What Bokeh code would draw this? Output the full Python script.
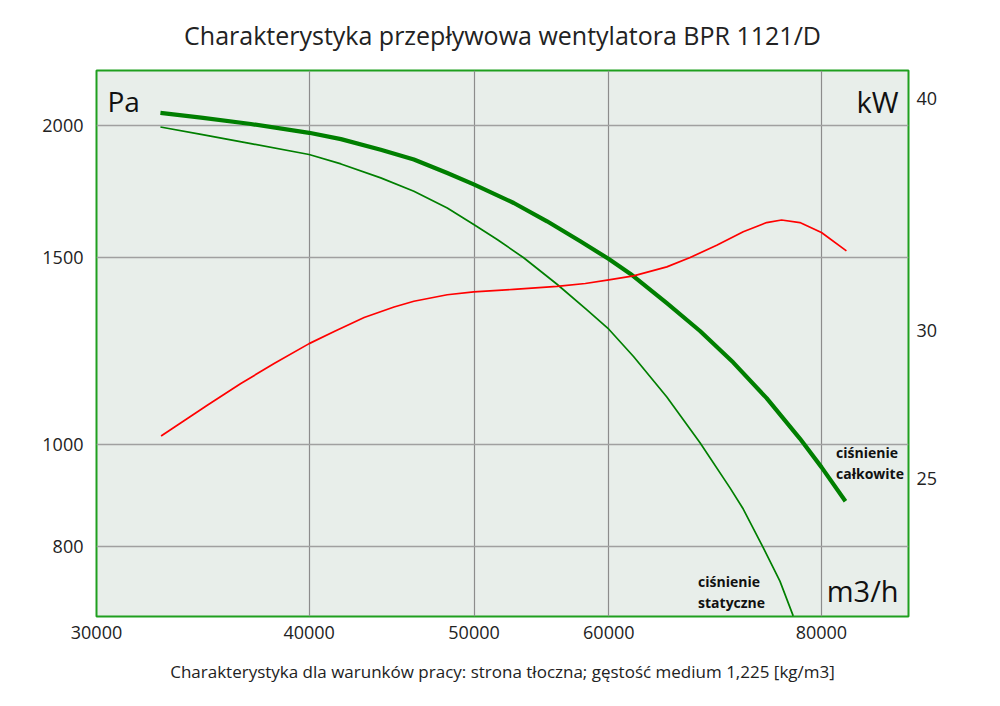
from bokeh.plotting import figure
from bokeh.models import (Range1d, LogScale, LogAxis, FixedTicker, BasicTickFormatter, Label)
from bokeh.embed import file_html
from bokeh.resources import INLINE

# ---------------- data ----------------
# total pressure (Pa) -- ciśnienie całkowite
q_total = [32710, 34560, 36970, 40000, 41760, 44070, 46090, 48220, 49980, 52760,
           55190, 57730, 60000, 61760, 64900, 67880, 71010, 74280, 77700, 80000, 82640]
p_total = [2056, 2035, 2007, 1969, 1942, 1898, 1858, 1804, 1760, 1690,
           1624, 1555, 1496, 1449, 1359, 1279, 1194, 1105, 1012, 951, 883]

# static pressure (Pa) -- ciśnienie statyczne
q_static = [32710, 34560, 36970, 40000, 41760, 44070, 46090, 48220, 49980, 51590,
            53470, 55940, 58250, 60000, 62040, 64900, 67880, 70690, 71970, 73940,
            75630, 77000]
p_static = [1994, 1962, 1923, 1878, 1840, 1785, 1734, 1672, 1613, 1561,
            1500, 1416, 1339, 1284, 1210, 1108, 1003, 909, 868, 798,
            742, 688]

# power (kW)
q_power = [32740, 34870, 36470, 38150, 40000, 41380, 43090, 44870, 46090, 48220,
           49980, 52760, 55940, 58120, 60000, 62040, 64900, 66980, 69430, 71970,
           74280, 75800, 77700, 80000, 82750]
n_power = [26.34, 27.37, 28.11, 28.81, 29.53, 29.98, 30.50, 30.90, 31.12, 31.37,
           31.48, 31.58, 31.70, 31.81, 31.95, 32.11, 32.47, 32.85, 33.35, 33.91,
           34.30, 34.41, 34.30, 33.88, 33.12]

x_ticks = [30000, 40000, 50000, 60000, 80000]
y_ticks = [800, 1000, 1500, 2000]
kw_ticks = [25, 30, 40]

title_text = "Charakterystyka przepływowa wentylatora BPR 1121/D"
subtitle_text = "Charakterystyka dla warunków pracy: strona tłoczna; gęstość medium 1,225 [kg/m3]"

FONT = "Open Sans"
GREEN = "#007f00"
RED = "#ff0000"

p = figure(width=992, height=698, x_axis_type="log", y_axis_type="log",
           x_range=Range1d(30000, 90000), y_range=Range1d(687, 2255),
           output_backend="svg", toolbar_location=None,
           min_border_left=96, min_border_right=84, min_border_top=69, min_border_bottom=82)

p.title.text = title_text
p.title.align = "center"
p.title.vertical_align = "top"
p.title.text_font = FONT
p.title.text_font_size = "25px"
p.title.text_font_style = "normal"
p.title.text_color = "#222222"
p.title.standoff = 34

p.background_fill_color = "#e8eeea"
p.border_fill_color = "white"
p.outline_line_color = "#1f9f1f"
p.outline_line_width = 2
p.outline_line_alpha = 1

# extra right axis (kW)
p.extra_y_ranges = {"kw": Range1d(21.07, 41.4)}
p.extra_y_scales = {"kw": LogScale()}
raxis = LogAxis(y_range_name="kw", ticker=FixedTicker(ticks=kw_ticks),
                formatter=BasicTickFormatter(use_scientific=False))
p.add_layout(raxis, "right")

xaxis = p.xaxis[0]
xaxis.ticker = FixedTicker(ticks=x_ticks)
xaxis.formatter = BasicTickFormatter(use_scientific=False)
xaxis.axis_label = subtitle_text
xaxis.axis_label_text_font = FONT
xaxis.axis_label_text_font_size = "17px"
xaxis.axis_label_text_font_style = "normal"
xaxis.axis_label_text_color = "#222222"
xaxis.axis_label_standoff = 18

yaxis = p.yaxis[0]
yaxis.ticker = FixedTicker(ticks=y_ticks)
yaxis.formatter = BasicTickFormatter(use_scientific=False)

for ax in [xaxis, yaxis, raxis]:
    ax.axis_line_color = None
    ax.major_tick_line_color = None
    ax.minor_tick_line_color = None
    ax.major_label_text_font = FONT
    ax.major_label_text_font_size = "18px"
    ax.major_label_text_color = "#222222"
xaxis.major_label_standoff = 3
yaxis.major_label_standoff = 7
raxis.major_label_standoff = 2

p.xgrid.ticker = FixedTicker(ticks=x_ticks)
p.ygrid.ticker = FixedTicker(ticks=y_ticks)
p.xgrid.grid_line_color = "#8c8c8c"
p.ygrid.grid_line_color = "#a0a0a0"
p.xgrid.grid_line_width = 1.2
p.ygrid.grid_line_width = 1.5

p.line(q_static, p_static, line_color=GREEN, line_width=1.7, line_join="round")
p.line(q_total, p_total, line_color=GREEN, line_width=4.2, line_join="round")
p.line(q_power, n_power, line_color=RED, line_width=1.7, line_join="round", y_range_name="kw")

def lab(x, y, text, size, bold=False, align="left"):
    p.add_layout(Label(x=x, y=y, text=text, text_font=FONT, text_font_size=size,
                       text_font_style="bold" if bold else "normal",
                       text_color="#111111", text_align=align, text_baseline="middle"))

lab(30450, 2109, "Pa", "28px")
lab(88800, 2109, "kW", "29px", align="right")
lab(88800, 727, "m3/h", "29px", align="right")
lab(81600, 981, "ciśnienie", "14px", bold=True)
lab(81600, 937, "całkowite", "14px", bold=True)
lab(67700, 742, "ciśnienie", "14px", bold=True)
lab(67700, 708, "statyczne", "14px", bold=True)

open("out.html", "w").write(file_html(p, INLINE))
